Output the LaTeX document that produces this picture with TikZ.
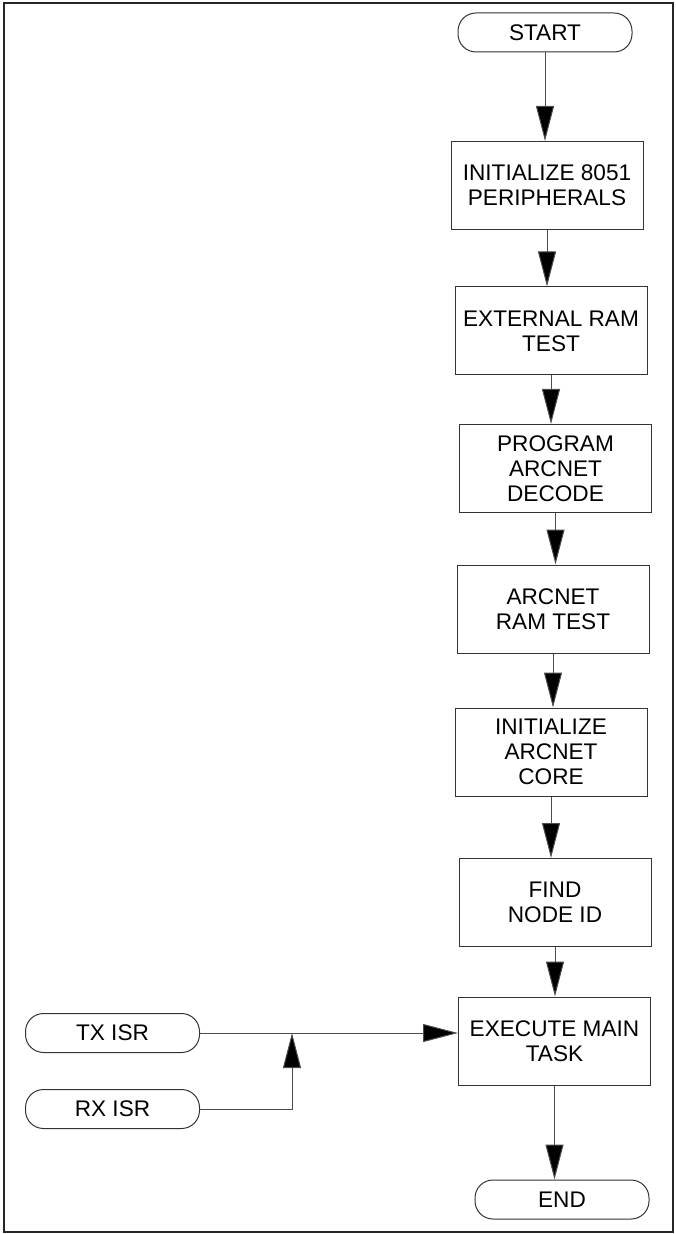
\documentclass[tikz,border=0pt]{standalone}
\usepackage{fontspec}
\setmainfont{Liberation Sans}
\usetikzlibrary{arrows.meta}

\begin{document}
\begin{tikzpicture}[x=0.5pt,y=-0.5pt,
  every node/.style={font=\fontsize{11.3}{12.6}\selectfont, align=center, inner sep=0pt},
  stepbox/.style={draw=black!80, line width=0.5pt, minimum width=96pt, minimum height=44pt},
  terminal/.style={draw=black!80, line width=0.5pt, rounded corners=9pt, minimum width=87pt, minimum height=19.5pt},
  flow/.style={draw=black!70, line width=0.5pt, -{Triangle[length=17.5pt,width=9pt,fill=black]}}]
\useasboundingbox (0,0) rectangle (675,1234);
\draw[line width=1pt, color=black!85] (4,3) rectangle (673,1232);
\node[terminal] (start) at (545,32.5) {START};
\node[stepbox] (init) at (547,185.5) {INITIALIZE 8051\\PERIPHERALS};
\node[stepbox] (xram) at (551,331) {EXTERNAL RAM\\TEST};
\node[stepbox] (decode) at (555.5,468.5) {PROGRAM\\ARCNET\\DECODE};
\node[stepbox] (arcram) at (553,609) {ARCNET\\RAM TEST};
\node[stepbox] (core) at (551,752) {INITIALIZE\\ARCNET\\CORE};
\node[stepbox] (nodeid) at (555,902.5) {FIND\\NODE ID};
\node[stepbox] (exec) at (554.5,1041) {EXECUTE MAIN\\TASK};
\node[terminal] (end) at (562,1199.5) {END};
\node[terminal] (tx) at (112.5,1033) {TX ISR};
\node[terminal] (rx) at (112.5,1109) {RX ISR};
\coordinate (join) at (292,1033);
\draw[flow] (start.south) -- (start.south |- init.north);
\draw[flow] (init.south) -- (init.south |- xram.north);
\draw[flow] (xram.south) -- (xram.south |- decode.north);
\draw[flow] (decode.south) -- (decode.south |- arcram.north);
\draw[flow] (arcram.south) -- (arcram.south |- core.north);
\draw[flow] (core.south) -- (core.south |- nodeid.north);
\draw[flow] (nodeid.south) -- (nodeid.south |- exec.north);
\draw[flow] (exec.south) -- (exec.south |- end.north);
\draw[flow] (tx.east) -- (tx.east -| exec.west);
\draw[flow] (rx.east) -| (join);
\end{tikzpicture}
\end{document}
